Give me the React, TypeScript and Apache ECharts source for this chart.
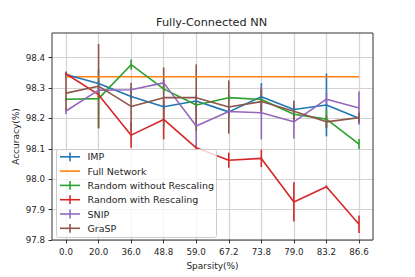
import React, { useEffect, useRef } from 'react';
import * as echarts from 'echarts';

const sparsity = ['0.0', '20.0', '36.0', '48.8', '59.0', '67.2', '73.8', '79.0', '83.2', '86.6'];

const impMean = [98.348, 98.318, 98.275, 98.241, 98.26, 98.224, 98.274, 98.232, 98.247, 98.203];
const impErr = [0.01, 0.01, 0.01, 0.01, 0.02, 0.02, 0.045, 0.015, 0.104, 0.02];

const fullNetwork = [98.34, 98.34, 98.34, 98.34, 98.34, 98.34, 98.34, 98.34, 98.34, 98.34];

const randNoResMean = [98.266, 98.268, 98.38, 98.3, 98.247, 98.271, 98.265, 98.216, 98.2, 98.117];
const randNoResErr = [0.005, 0.096, 0.017, 0.01, 0.01, 0.01, 0.01, 0.015, 0.03, 0.017];

const randResMean = [98.35, 98.281, 98.147, 98.199, 98.105, 98.064, 98.07, 97.926, 97.976, 97.852];
const randResErr = [0.005, 0.01, 0.042, 0.066, 0.01, 0.025, 0.029, 0.065, 0.005, 0.029];

const snipMean = [98.227, 98.296, 98.297, 98.32, 98.177, 98.225, 98.221, 98.191, 98.266, 98.237];
const snipErr = [0.01, 0.01, 0.01, 0.01, 0.07, 0.01, 0.088, 0.055, 0.02, 0.054];

const graspMean = [98.286, 98.309, 98.242, 98.271, 98.271, 98.24, 98.258, 98.226, 98.191, 98.205];
const graspErr = [0.058, 0.14, 0.078, 0.1, 0.11, 0.088, 0.04, 0.036, 0.02, 0.015];

const yMin = 97.8;
const yLabelMax = 98.4;
const yFrameMax = 98.485;

const FONT = 'DejaVu Sans';
const TEXT = '#262626';

type Method = { name: string; color: string; mean: number[]; err: number[] | null };

const methods: Method[] = [
  { name: 'IMP', color: '#1f77b4', mean: impMean, err: impErr },
  { name: 'Full Network', color: '#ff7f0e', mean: fullNetwork, err: null },
  { name: 'Random without Rescaling', color: '#2ca02c', mean: randNoResMean, err: randNoResErr },
  { name: 'Random with Rescaling', color: '#d62728', mean: randResMean, err: randResErr },
  { name: 'SNIP', color: '#9467bd', mean: snipMean, err: snipErr },
  { name: 'GraSP', color: '#8c564b', mean: graspMean, err: graspErr },
];

const LW = 1.6;

function buildOption() {
  const barSeries: any[] = [];
  const lineSeries: any[] = [];
  methods.forEach((m) => {
    if (m.err) {
      const err = m.err;
      barSeries.push({
        type: 'custom',
        name: m.name + ' err',
        xAxisIndex: 1,
        yAxisIndex: 1,
        z: 2,
        encode: { x: 0, y: [1, 2] },
        data: m.mean.map((v, i) => [i, v - err[i], v + err[i]]),
        renderItem: (_p: any, api: any) => {
          const x = api.value(0);
          const lo = api.coord([x, api.value(1)]);
          const hi = api.coord([x, api.value(2)]);
          return {
            type: 'line',
            shape: { x1: lo[0], y1: lo[1], x2: hi[0], y2: hi[1] },
            style: { stroke: m.color, lineWidth: LW },
          };
        },
      });
      lineSeries.push({
        type: 'line',
        name: m.name,
        xAxisIndex: 1,
        yAxisIndex: 1,
        z: 2,
        data: m.mean,
        symbol: 'none',
        clip: false,
        lineStyle: { color: m.color, width: LW },
        itemStyle: { color: m.color },
      });
    } else {
      barSeries.push({
        type: 'line',
        name: m.name,
        xAxisIndex: 1,
        yAxisIndex: 1,
        z: 2,
        data: m.mean,
        symbol: 'none',
        clip: false,
        lineStyle: { color: m.color, width: LW },
        itemStyle: { color: m.color },
      });
    }
  });

  const legendX = 56.5;
  const legendY = 149.5;
  const rowGap = 14.3;
  const LZ = 100;
  const legendChildren: any[] = [
    {
      type: 'rect',
      z: LZ,
      shape: { x: legendX, y: legendY, width: 160, height: 88, r: 2 },
      style: { fill: 'rgba(255,255,255,0.8)', stroke: '#cccccc', lineWidth: 1 },
    },
  ];
  methods.forEach((m, i) => {
    const cy = legendY + 7.3 + i * rowGap;
    legendChildren.push({
      type: 'line',
      z: LZ + 1,
      shape: { x1: legendX + 3.5, y1: cy, x2: legendX + 23.5, y2: cy },
      style: { stroke: m.color, lineWidth: LW },
    });
    if (m.err) {
      legendChildren.push({
        type: 'line',
        z: LZ + 1,
        shape: { x1: legendX + 13.5, y1: cy - 4.4, x2: legendX + 13.5, y2: cy + 4.4 },
        style: { stroke: m.color, lineWidth: LW },
      });
    }
    legendChildren.push({
      type: 'text',
      z: LZ + 1,
      x: legendX + 31,
      y: cy,
      style: {
        text: m.name,
        fontSize: 9.5,
        fontFamily: FONT,
        fill: TEXT,
        verticalAlign: 'middle',
        align: 'left',
      },
    });
  });

  return {
    animation: false,
    backgroundColor: '#ffffff',
    title: {
      text: 'Fully-Connected NN',
      left: 156,
      top: 16.5,
      padding: 0,
      textStyle: { fontSize: 11.3, fontWeight: 'normal', fontFamily: FONT, color: TEXT },
    },
    grid: [
      { left: 52, right: 42, top: 33, bottom: 37, show: true, borderColor: '#333333', borderWidth: 1, backgroundColor: 'transparent', z: 1 },
      { left: 66, right: 56, top: 33, bottom: 37, show: false },
      { left: 52, right: 42, top: 57.7, bottom: 37, show: false },
    ],
    xAxis: [
      { gridIndex: 0, type: 'value', show: false, min: 0, max: 1 },
      {
        gridIndex: 1,
        type: 'category',
        data: sparsity,
        boundaryGap: false,
        axisLine: { show: false },
        axisTick: { show: true, length: 3.5, lineStyle: { color: '#333333', width: 1 } },
        axisLabel: { fontSize: 8.7, fontFamily: FONT, color: TEXT, margin: 7.5, interval: 0 },
        splitLine: { show: true, interval: 0, lineStyle: { color: '#d3d3d3', width: 1.2 } },
        name: 'Sparsity(%)',
        nameLocation: 'middle',
        nameGap: 20,
        nameTextStyle: { fontSize: 9, fontFamily: FONT, color: TEXT },
      },
      { gridIndex: 2, type: 'value', show: false, min: 0, max: 1 },
    ],
    yAxis: [
      {
        gridIndex: 0,
        type: 'value',
        min: yMin,
        max: yFrameMax,
        axisLine: { show: false },
        axisTick: { show: false },
        axisLabel: { show: false },
        splitLine: { show: false },
        name: 'Accuracy(%)',
        nameLocation: 'middle',
        nameGap: 32,
        nameTextStyle: { fontSize: 9, fontFamily: FONT, color: TEXT },
      },
      {
        gridIndex: 1,
        type: 'value',
        min: yMin,
        max: yFrameMax,
        show: false,
      },
      {
        gridIndex: 2,
        type: 'value',
        min: yMin,
        max: yLabelMax,
        interval: 0.1,
        axisLine: { show: false },
        axisTick: { show: true, length: 3.5, lineStyle: { color: '#333333', width: 1 } },
        axisLabel: {
          fontSize: 8.7,
          fontFamily: FONT,
          color: TEXT,
          margin: 7,
          formatter: (v: number) => v.toFixed(1),
        },
        splitLine: { show: true, lineStyle: { color: '#d3d3d3', width: 1.2 } },
      },
    ],
    graphic: legendChildren,
    series: [...barSeries, ...lineSeries],
  };
}

export default function App() {
  const ref = useRef<HTMLDivElement>(null);
  useEffect(() => {
    if (!ref.current) return;
    const chart = echarts.init(ref.current, undefined, { renderer: 'svg' });
    chart.setOption(buildOption() as any);
    return () => chart.dispose();
  }, []);
  return (
    <div
      ref={ref}
      style={{ position: 'fixed', left: 0, top: 0, width: 415, height: 277, background: '#fff' }}
    />
  );
}
